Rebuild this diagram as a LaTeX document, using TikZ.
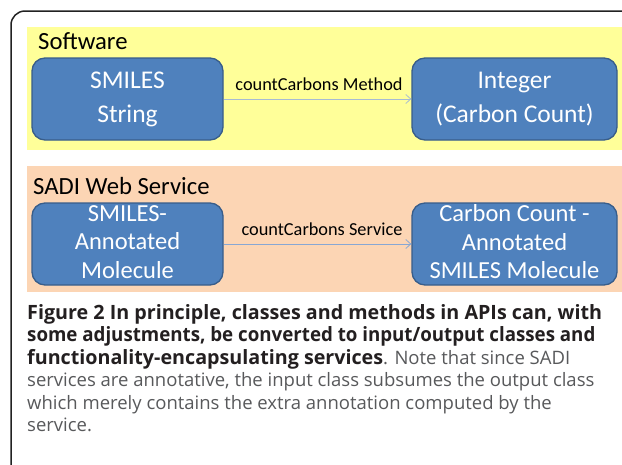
\documentclass[tikz,border=0pt]{standalone}
\usepackage{fontspec}
\setmainfont{Carlito}
\newfontfamily\capfont{Open Sans}
\usetikzlibrary{arrows.meta}
\definecolor{frameC}{HTML}{222222}
\definecolor{yellowC}{HTML}{FFFF99}
\definecolor{orangeC}{HTML}{FCD5B4}
\definecolor{boxfill}{HTML}{4F81BD}
\definecolor{boxdraw}{HTML}{385D8A}
\definecolor{arrowA}{HTML}{A7BBD3}
\definecolor{arrowB}{HTML}{87A7D4}
\definecolor{capbold}{HTML}{231F20}
\definecolor{capreg}{HTML}{58595B}
\newcommand{\capbf}[1]{{\fontsize{19.7}{22}\selectfont\bfseries\color{capbold}#1}}
\tikzset{
  classbox/.style={draw=boxdraw, fill=boxfill, line width=1.3pt, rounded corners=13pt, text=white, align=center, inner sep=0pt},
  bigtext/.style={font=\fontsize{25.5}{34}\selectfont},
  smalltext/.style={font=\fontsize{24.5}{28.5}\selectfont},
  title/.style={font=\fontsize{24.7}{28}\selectfont, text=black, anchor=west, inner sep=0pt},
  lbl/.style={font=\fontsize{18.3}{20}\selectfont, text=black, inner sep=0pt},
  conn/.style={line width=1pt, -{Straight Barb[length=5pt,width=9pt,line width=0.8pt]}},
  capline/.style={anchor=base west, inner sep=0pt, font=\capfont\fontsize{18.5}{22}\selectfont, text=capreg}
}
\begin{document}
\begin{tikzpicture}[x=1pt,y=-1pt]
\useasboundingbox (0,0) rectangle (622,464);
\fill[white] (0,0) rectangle (622,464);
% frame
\draw[frameC, line width=1.5pt, rounded corners=14pt] (11,480) -- (11,11) -- (640,11);
% bands
\fill[yellowC] (27,27) rectangle (622,150);
\fill[orangeC] (27,166) rectangle (622,292);
\node[title] (sw) at (38,41) {Software};
\node[title] (sadi) at (33,186) {SADI Web Service};
% boxes top
\node[classbox, bigtext, minimum width=191pt, minimum height=82pt] (smiles) at (127.5,99) {SMILES\\String};
\node[classbox, bigtext, minimum width=205pt, minimum height=82pt] (int) at (514.5,99) {Integer\\(Carbon Count)};
\draw[conn, arrowA] (smiles.east) -- (int.west);
\node[lbl] (m) at (319,84) {countCarbons Method};
% boxes bottom
\node[classbox, minimum width=191pt, minimum height=82pt] (sam) at (127.5,244) {};
\node[text=white, smalltext, align=center, inner sep=0pt] (samt) at ([yshift=2pt]sam.center) {SMILES-\\Annotated\\Molecule};
\node[classbox, minimum width=205pt, minimum height=82pt] (ccm) at (514.5,244) {};
\node[text=white, smalltext, align=center, inner sep=0pt] (ccmt) at ([yshift=2pt]ccm.center) {Carbon Count -\\Annotated\\SMILES Molecule};
\draw[conn, arrowB] (sam.east) -- (ccm.west);
\node[lbl] (s) at (322,229) {countCarbons Service};
% caption
\node[capline] (c1) at (27,319) {\capbf{Figure 2 In principle, classes and methods in APIs can, with}};
\node[capline] (c2) at (27,341.5) {\scalebox{0.95}[1]{\capbf{some adjustments, be converted to input/output classes and}}};
\node[capline] (c3) at (27,364) {\capbf{functionality-encapsulating services}. Note that since SADI};
\node[capline] (c4) at (27,386.5) {services are annotative, the input class subsumes the output class};
\node[capline] (c5) at (27,409) {which merely contains the extra annotation computed by the};
\node[capline] (c6) at (27,431.5) {service.};
\end{tikzpicture}
\end{document}
